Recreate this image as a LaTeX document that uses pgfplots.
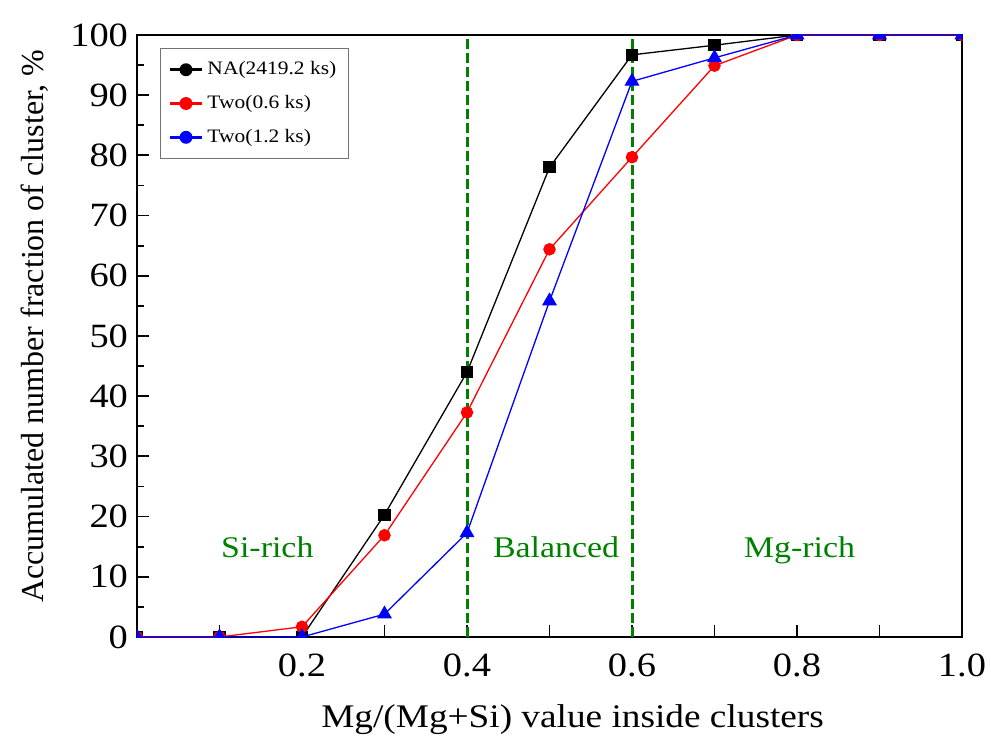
\documentclass[border=0pt]{standalone}
\usepackage{pgfplots}
\pgfplotsset{compat=1.18}
\usepackage{fontspec}
\setmainfont{Liberation Serif}[FakeStretch=1.13]
\newfontfamily\ylabfont{Liberation Serif}
\definecolor{dgreen}{RGB}{0,128,0}
\begin{document}
\begin{tikzpicture}
\begin{axis}[
  scale only axis,
  at={(0,0)}, anchor=south west,
  width=412.5pt, height=301pt,
  xmin=0, xmax=1.0, ymin=0, ymax=100,
  clip marker paths=true,
  xtick={0.1,0.2,0.3,0.4,0.5,0.6,0.7,0.8,0.9,1.0},
  xticklabels={,0.2,,0.4,,0.6,,0.8,,1.0},
  ytick={0,10,...,100},
  minor ytick={5,15,...,95},
  tick align=inside,
  xtick pos=bottom, ytick pos=left,
  major tick length=6pt, minor tick length=3.5pt,
  every tick/.style={black, line width=0.9pt},
  axis line style={line width=1.2pt},
  tick label style={font=\fontsize{17}{19}\selectfont},
  xticklabel style={yshift=-5pt},
  yticklabel style={xshift=-1pt},
  /pgf/number format/assume math mode=true,
  xlabel={Mg/(Mg+Si) value inside clusters},
  ylabel={\ylabfont Accumulated number fraction of cluster, \%},
  xlabel style={font=\fontsize{16.5}{18}\selectfont, at={(axis description cs:0.528,-0.138)}, anchor=center},
  ylabel style={font=\fontsize{16}{18}\selectfont, at={(axis description cs:-0.1236,0.516)}, anchor=center},
  legend style={at={(axis description cs:0.028,0.978)}, anchor=north west, draw=black!55, line width=0.4pt,
     font=\fontsize{9.5}{11}\selectfont, row sep=4.8pt, inner xsep=4pt, inner ysep=4.5pt},
  legend cell align=left,
  legend image code/.code={
    \draw[#1, line width=1.5pt] (0pt,0pt) -- (16pt,0pt);
    \fill[#1] (8pt,0pt) circle (2.9pt);
  },
]
\draw[dgreen, line width=1.5pt, dash pattern=on 5pt off 2pt] (axis cs:0.4,0) -- (axis cs:0.4,100);
\draw[dgreen, line width=1.5pt, dash pattern=on 5pt off 2pt] (axis cs:0.6,0) -- (axis cs:0.6,100);
\addplot[black, line width=0.65pt, mark=square*, mark size=2.7pt, mark options={fill=black}] coordinates {
 (0,0) (0.1,0) (0.2,0) (0.3,20.3) (0.4,44.0) (0.5,78.0) (0.6,96.7) (0.7,98.3) (0.8,100) (0.9,100) (1.0,100)};
\addlegendentry{NA(2419.2 ks)}
\addplot[red, line width=0.65pt, mark=*, mark size=2.8pt, mark options={fill=red}] coordinates {
 (0,0) (0.1,0) (0.2,1.7) (0.3,16.9) (0.4,37.3) (0.5,64.4) (0.6,79.7) (0.7,94.9) (0.8,100) (0.9,100) (1.0,100)};
\addlegendentry{Two(0.6 ks)}
\addplot[blue, line width=0.65pt, mark=triangle*, mark size=3.7pt, mark options={fill=blue}] coordinates {
 (0,0) (0.1,0) (0.2,0) (0.3,3.8) (0.4,17.3) (0.5,55.8) (0.6,92.3) (0.7,96.2) (0.8,100) (0.9,100) (1.0,100)};
\addlegendentry{Two(1.2 ks)}
\node[dgreen, font=\fontsize{15}{17}\selectfont, anchor=base] at (axis cs:0.158,13.2) {Si-rich};
\node[dgreen, font=\fontsize{15}{17}\selectfont, anchor=base] at (axis cs:0.508,13.2) {Balanced};
\node[dgreen, font=\fontsize{15}{17}\selectfont, anchor=base] at (axis cs:0.803,13.2) {Mg-rich};
\end{axis}
\pgfresetboundingbox
\path[use as bounding box] (-68.5pt,-53.5pt) rectangle (427pt,318.5pt);
\end{tikzpicture}
\end{document}
